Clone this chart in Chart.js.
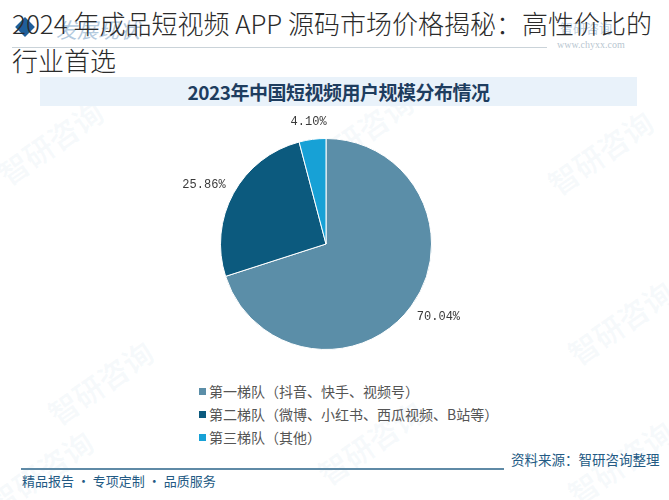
<!DOCTYPE html>
<html>
<head>
<meta charset="utf-8">
<script src="https://cdn.jsdelivr.net/npm/chart.js@4"></script>
<style>
  html, body { margin: 0; padding: 0; background: #ffffff; }
  #stage { position: relative; width: 669px; height: 500px; overflow: hidden; background: #fff; font-family: "Noto Sans CJK SC", sans-serif; }
  .abs { position: absolute; }
  .wm { position: absolute; font-family: "Noto Sans CJK SC"; font-size: 30px; font-weight: bold; color: rgba(120,160,200,0.06); transform: rotate(-35deg); white-space: nowrap; }
  #legend { position: absolute; left: 199px; top: 380px; font-size: 14px; color: #555; line-height: 23px; }
  #legend .row { display: flex; align-items: center; height: 23px; }
  #legend .sw { width: 7px; height: 7px; margin-right: 3px; }
</style>
</head>
<body>
<div id="stage">
  <!-- faint watermarks -->
  <div class="wm" style="left:-10px;top:120px;">智研咨询</div>
  <div class="wm" style="left:40px;top:360px;">智研咨询</div>
  <div class="wm" style="left:300px;top:110px;">智研咨询</div>
  <div class="wm" style="left:540px;top:130px;">智研咨询</div>
  <div class="wm" style="left:560px;top:300px;">智研咨询</div>
  <div class="wm" style="left:560px;top:440px;">智研咨询</div>
  <div class="wm" style="left:310px;top:420px;">智研咨询</div>
  <div class="wm" style="left:-20px;top:450px;">智研咨询</div>

  <!-- background header of the source image -->
  <div class="abs" style="left:12px;top:47px;width:535px;height:1px;background:#b8c4cc;"></div>
  <div class="abs" style="left:56px;top:14px;font-size:21px;color:#9ab8d4;font-style:italic;">发展现状</div>
  <div class="abs" style="left:560px;top:18px;font-size:13px;color:#a9c3da;">智研咨询</div>
  <div class="abs" style="left:557px;top:39px;font-size:10px;color:#9fb3c2;font-family:'Liberation Serif';">www.chyxx.com</div>
  <div class="abs" style="left:0;top:0;width:669px;height:76px;background:rgba(255,255,255,0.25);"></div>
  <div class="abs" style="left:18px;top:20px;width:14px;height:14px;background:#1f5f9a;transform:rotate(45deg);"></div>

  <!-- overlay page title -->
  <div class="abs" style="left:12px;top:4px;font-size:26px;line-height:37px;color:#2b2b2b;white-space:nowrap;font-weight:300;">2024 年成品短视频 APP 源码市场价格揭秘：高性价比的<br>行业首选</div>

  <!-- chart title band -->
  <div class="abs" style="left:40px;top:77px;width:597px;height:29px;background:#e9f2fa;"></div>
  <div class="abs" style="left:40px;top:77px;width:597px;height:29px;line-height:29px;text-align:center;font-size:19px;font-weight:bold;color:#1e3d5f;letter-spacing:-0.5px;">2023年中国短视频用户规模分布情况</div>

  <!-- chart canvas -->
  <div class="abs" style="left:170px;top:110px;width:312px;height:268px;">
    <canvas id="c" width="312" height="268"></canvas>
  </div>

  <div id="legend"></div>

  <!-- footer -->
  <div class="abs" style="left:21px;top:468px;width:483px;height:2px;background:#5f8aa6;"></div>
  <div class="abs" style="left:511px;top:449px;font-size:13.5px;color:#235a84;white-space:nowrap;">资料来源：智研咨询整理</div>
  <div class="abs" style="left:22px;top:471px;font-size:13px;color:#235a84;white-space:nowrap;">精品报告 · 专项定制 · 品质服务</div>
</div>

<script>
const categories = ["第一梯队（抖音、快手、视频号）", "第二梯队（微博、小红书、西瓜视频、B站等）", "第三梯队（其他）"];
const shares = [70.04, 25.86, 4.10];
const sliceColors = ["#5b8ea8", "#0c5a7e", "#17a1d6"];

// HTML legend built from the data arrays
const lg = document.getElementById('legend');
categories.forEach((name, i) => {
  const row = document.createElement('div');
  row.className = 'row';
  const sw = document.createElement('span');
  sw.className = 'sw';
  sw.style.background = sliceColors[i];
  const t = document.createElement('span');
  t.textContent = name;
  row.appendChild(sw); row.appendChild(t);
  lg.appendChild(row);
});

const outsideLabels = {
  id: 'outsideLabels',
  afterDatasetsDraw(chart) {
    const ctx = chart.ctx;
    const meta = chart.getDatasetMeta(0);
    ctx.save();
    ctx.font = '12px "Liberation Mono"';
    ctx.fillStyle = '#3a3a3a';
    ctx.textAlign = 'center';
    ctx.textBaseline = 'middle';
    meta.data.forEach((arc, i) => {
      const p = arc.getProps(['x', 'y', 'startAngle', 'endAngle', 'outerRadius'], true);
      const mid = (p.startAngle + p.endAngle) / 2;
      const txt = shares[i].toFixed(2) + '%';
      const w = ctx.measureText(txt).width;
      const c = Math.cos(mid), s = Math.sin(mid);
      const r = p.outerRadius + 10;
      const x = p.x + r * c + (w / 2 + 2) * c;
      const y = p.y + r * s + 8 * s;
      ctx.fillText(txt, x, y);
    });
    ctx.restore();
  }
};

new Chart(document.getElementById('c'), {
  type: 'pie',
  data: {
    labels: categories,
    datasets: [{
      data: shares,
      backgroundColor: sliceColors,
      borderColor: '#ffffff',
      borderWidth: 1
    }]
  },
  options: {
    responsive: false,
    animation: false,
    layout: { padding: { left: 50, right: 50, top: 28, bottom: 28 } },
    plugins: {
      legend: { display: false },
      tooltip: { enabled: false }
    }
  },
  plugins: [outsideLabels]
});
</script>
</body>
</html>
